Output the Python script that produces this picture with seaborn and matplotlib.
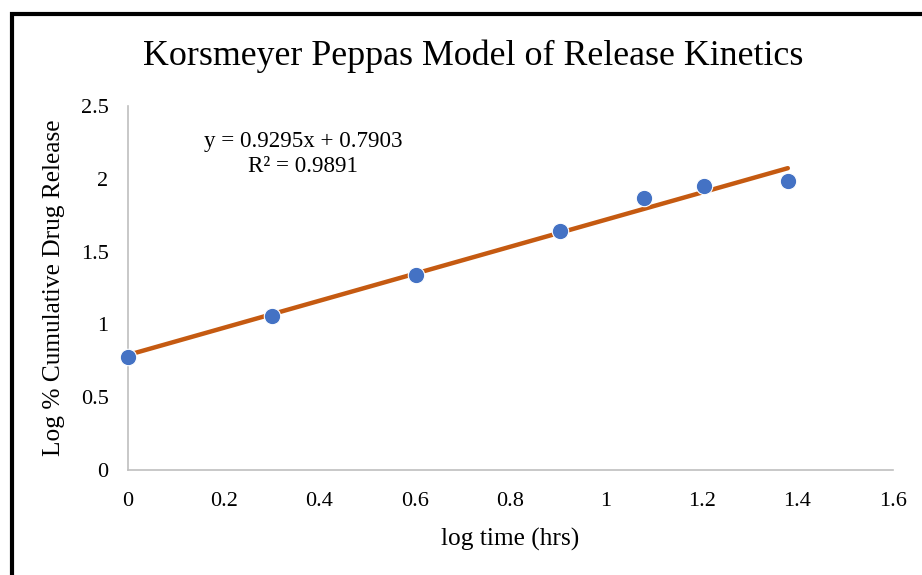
import numpy as np
import pandas as pd
import matplotlib
matplotlib.use("Agg")
import matplotlib.pyplot as plt
from matplotlib.patches import Rectangle
import seaborn as sns

# Data
log_time = [0.0, 0.301, 0.602, 0.903, 1.079, 1.204, 1.380]
log_release = [0.776, 1.058, 1.339, 1.641, 1.868, 1.951, 1.987]
slope = 0.9295
intercept = 0.7903
r_squared = 0.9891
x_ticks = [0, 0.2, 0.4, 0.6, 0.8, 1.0, 1.2, 1.4, 1.6]
x_tick_labels = ["0", "0.2", "0.4", "0.6", "0.8", "1", "1.2", "1.4", "1.6"]
y_ticks = [0, 0.5, 1.0, 1.5, 2.0, 2.5]
y_tick_labels = ["0", "0.5", "1", "1.5", "2", "2.5"]

sns.set_theme(style="white")
plt.rcParams['font.family'] = ['Liberation Serif', 'DejaVu Serif']
plt.rcParams['text.color'] = 'black'
plt.rcParams['axes.labelcolor'] = 'black'

W, H = 922, 575
fig = plt.figure(figsize=(W / 100, H / 100), dpi=100)
ax = fig.add_axes([128 / W, 1 - 470 / H, (893 - 128) / W, (470 - 106) / H])

df = pd.DataFrame({"x": log_time, "y": log_release})
trend_x = np.array([min(log_time), max(log_time)])
trend = pd.DataFrame({"x": trend_x, "y": slope * trend_x + intercept})

sns.lineplot(data=trend, x="x", y="y", ax=ax, color="#C55A11", lw=3.2, zorder=2)
sns.scatterplot(data=df, x="x", y="y", ax=ax, color="#4472C4", s=140,
                edgecolor="white", linewidth=0.8, zorder=3, clip_on=False)

ax.set_xlim(0, 1.6)
ax.set_ylim(0, 2.5)
ax.set_xticks(x_ticks)
ax.set_xticklabels(x_tick_labels)
ax.set_yticks(y_ticks)
ax.set_yticklabels(y_tick_labels)
ax.tick_params(axis="both", labelsize=16, colors="black", length=0)
ax.tick_params(axis="x", pad=16)
ax.tick_params(axis="y", pad=14)
for s in ["top", "right"]:
    ax.spines[s].set_visible(False)
for s in ["left", "bottom"]:
    ax.spines[s].set_color("#BFBFBF")
    ax.spines[s].set_linewidth(1.2)
ax.grid(False)

ax.set_xlabel("log time (hrs)", fontsize=18.3, labelpad=12)
ax.set_ylabel("Log % Cumulative Drug Release", fontsize=18.3, labelpad=11)

fig.text(473 / W, 1 - 56 / H, "Korsmeyer Peppas Model of Release Kinetics",
         ha="center", va="center", fontsize=25.8)

ax.text(303 / W, 1 - 154 / H, f"y = {slope}x + {intercept}\nR² = {r_squared}",
        transform=fig.transFigure, ha="center", va="center", fontsize=16.6,
        linespacing=1.3)

fig.patches.append(Rectangle((11.5 / W, -0.2), 2, 1.2 - 13.5 / H,
                             transform=fig.transFigure, fill=False,
                             edgecolor="black", lw=3))

fig.savefig("out.png", dpi=100)
